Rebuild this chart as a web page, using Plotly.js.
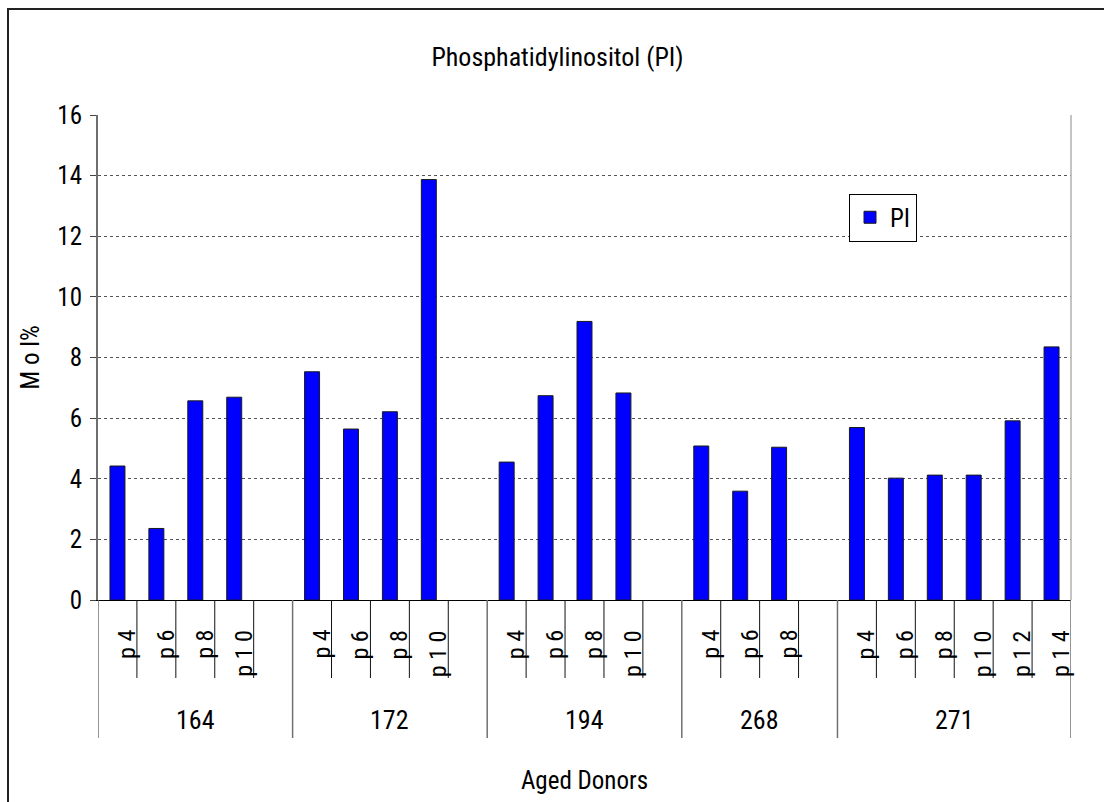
<!DOCTYPE html>
<html>
<head>
<meta charset="utf-8">
<script src="https://cdn.plot.ly/plotly-3.0.1.min.js"></script>
<style>
  html, body { margin: 0; padding: 0; background: #fff; }
  #wrap { position: relative; width: 1104px; height: 802px; overflow: hidden; }
  #chart { position: absolute; left: 0; top: 0; width: 1104px; height: 802px; }
  #frame { position: absolute; left: 7px; top: 8px; width: 1120px; height: 820px;
           border: 2px solid #222; pointer-events: none; box-sizing: border-box; }
</style>
</head>
<body>
<div id="wrap">
  <div id="chart"></div>
  <div id="frame"></div>
</div>
<script>
// ---- data ----
const donors = ["164", "172", "194", "268", "271"];
const passages164 = ["p4", "p6", "p8", "p10"];
const passages172 = ["p4", "p6", "p8", "p10"];
const passages194 = ["p4", "p6", "p8", "p10"];
const passages268 = ["p4", "p6", "p8"];
const passages271 = ["p4", "p6", "p8", "p10", "p12", "p14"];
const pi164 = [4.42, 2.36, 6.57, 6.69];
const pi172 = [7.53, 5.64, 6.21, 13.87];
const pi194 = [4.55, 6.74, 9.19, 6.83];
const pi268 = [5.08, 3.59, 5.04];
const pi271 = [5.69, 4.02, 4.12, 4.12, 5.91, 8.35];
const seriesName = "PI";
const chartTitle = "Phosphatidylinositol (PI)";
const xTitle = "Aged Donors";
const yTitle = "M o l%";

const passages = [passages164, passages172, passages194, passages268, passages271];
const values = [pi164, pi172, pi194, pi268, pi271];

// ---- build category slots (Excel style: blank row after each donor except last) ----
const cats = [], ys = [], subLabels = [], groupSpans = [];
donors.forEach((d, gi) => {
  const start = cats.length;
  passages[gi].forEach((p, pi) => {
    cats.push(d + " " + p);
    ys.push(values[gi][pi]);
    subLabels.push({ idx: cats.length - 1, text: p.split("").join(" ") });
  });
  if (gi < donors.length - 1) { cats.push(d + " blank"); ys.push(null); }
  groupSpans.push({ name: d, start: start, end: cats.length - 1 });
});

const FONT = "'Liberation Sans Narrow', 'Arial Narrow', 'Roboto Condensed', 'DejaVu Sans Condensed', sans-serif";
const plotH = 802 - 115 - 202;
const shortDrop = -78 / plotH;
const longDrop = -138 / plotH;

const shapes = [];
const groupEdges = new Set();
groupSpans.forEach(g => { groupEdges.add(g.start - 0.5); groupEdges.add(g.end + 0.5); });
for (let i = 0; i <= cats.length; i++) {
  const b = i - 0.5;
  const isLong = groupEdges.has(b);
  shapes.push({
    type: "line", xref: "x", yref: "paper", x0: b, x1: b, y0: 0, y1: isLong ? longDrop : shortDrop,
    line: { color: isLong ? "#707070" : "#111", width: isLong ? 1.5 : 1 }, layer: "above"
  });
}
shapes.push({ type: "line", xref: "paper", yref: "paper", x0: 1, x1: 1, y0: 0, y1: 1,
  line: { color: "#b0b0b0", width: 1.5 } });

const annotations = [];
subLabels.forEach(s => annotations.push({
  xref: "x", yref: "paper", x: s.idx, y: 0, yanchor: "top", xanchor: "center",
  yshift: -28, xshift: 9, textangle: -90, showarrow: false, text: s.text,
  font: { family: FONT, size: 24, color: "#000" }
}));
groupSpans.forEach(g => annotations.push({
  xref: "x", yref: "paper", x: (g.start + g.end) / 2, y: 0, yanchor: "middle", xanchor: "center",
  yshift: -120, showarrow: false, text: g.name,
  font: { family: FONT, size: 26, color: "#000" }
}));

const trace = {
  type: "bar", name: seriesName, x: cats, y: ys,
  marker: { color: "#0000FF", line: { color: "#1a1a1a", width: 1 } },
  showlegend: true, hoverinfo: "y"
};

const layout = {
  width: 1104, height: 802,
  margin: { l: 98, r: 33, t: 115, b: 202 },
  paper_bgcolor: "#fff", plot_bgcolor: "#fff",
  font: { family: FONT, size: 24, color: "#000" },
  title: { text: chartTitle, x: 0.505, xref: "container", xanchor: "center",
           y: 1 - 57 / 802, yref: "container", yanchor: "middle",
           font: { family: FONT, size: 26, color: "#000" } },
  bargap: 0.615,
  showlegend: true,
  legend: { x: (883 - 98) / 973, xanchor: "center", y: (600 - 217.5) / 485, yanchor: "middle",
            bgcolor: "#fff", bordercolor: "#000", borderwidth: 1,
            font: { family: FONT, size: 25, color: "#000" } },
  xaxis: {
    type: "category", categoryorder: "array", categoryarray: cats,
    range: [-0.5, cats.length - 0.5],
    showticklabels: false, ticks: "", showgrid: false, zeroline: false,
    showline: true, linecolor: "#000", linewidth: 1,
    title: { text: xTitle, standoff: 171, font: { family: FONT, size: 25, color: "#000" } }
  },
  yaxis: {
    range: [0, 16], dtick: 2, tick0: 0,
    showgrid: true, gridcolor: "#555", griddash: "dot", gridwidth: 1,
    zeroline: false, showline: true, linecolor: "#6e6e6e", linewidth: 2,
    ticks: "outside", ticklen: 6, tickcolor: "#444", tickwidth: 1,
    ticklabelstandoff: 3,
    tickfont: { family: FONT, size: 25, color: "#000" },
    title: { text: yTitle, standoff: 11, font: { family: FONT, size: 25, color: "#000" } }
  },
  shapes: shapes,
  annotations: annotations
};

Plotly.newPlot("chart", [trace], layout, { displayModeBar: false, staticPlot: true });
</script>
</body>
</html>
